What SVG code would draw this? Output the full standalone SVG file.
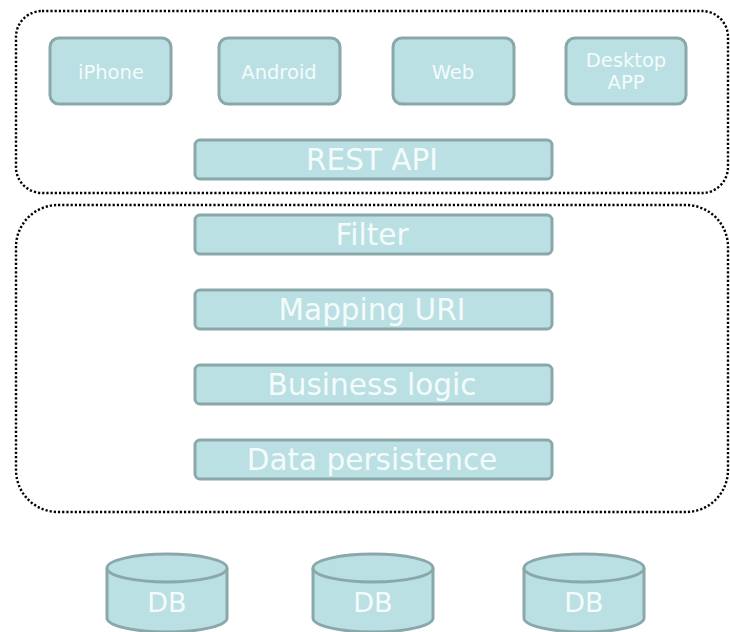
<svg xmlns="http://www.w3.org/2000/svg" width="730" height="632" viewBox="0 0 730 632">
<style>
.zone{fill:none;stroke:#000;stroke-width:2.4;stroke-dasharray:2.2 2}
.box{fill:#BAE0E3;stroke:#8AA8AA;stroke-width:3}
.t{fill:#F4FBFB;font-family:"DejaVu Sans","Verdana",sans-serif;font-weight:normal;text-anchor:middle}
.s{font-size:19.5px}
.l{font-size:29.5px}
.d{font-size:27px}
</style>
<g id="client-zone"><rect class="zone" x="16" y="11" width="712" height="182" rx="26"/></g>
<g id="server-zone"><rect class="zone" x="16" y="205" width="712" height="307" rx="42"/></g>
<g id="iphone"><rect class="box" x="50" y="38" width="121" height="66" rx="9"/><text class="t s" x="111" y="79">iPhone</text></g>
<g id="android"><rect class="box" x="219" y="38" width="121" height="66" rx="9"/><text class="t s" x="279" y="79">Android</text></g>
<g id="web"><rect class="box" x="393" y="38" width="121" height="66" rx="9"/><text class="t s" x="453" y="79">Web</text></g>
<g id="desktop"><rect class="box" x="566" y="38" width="120" height="66" rx="9"/><text class="t s" x="626" y="67">Desktop</text><text class="t s" x="626" y="89">APP</text></g>
<g id="rest-api"><rect class="box" x="195" y="140" width="357" height="39" rx="5"/><text class="t l" x="372" y="170">REST API</text></g>
<g id="filter"><rect class="box" x="195" y="215" width="357" height="39" rx="5"/><text class="t l" x="372" y="245">Filter</text></g>
<g id="mapping"><rect class="box" x="195" y="290" width="357" height="39" rx="5"/><text class="t l" x="372" y="320">Mapping URI</text></g>
<g id="business"><rect class="box" x="195" y="365" width="357" height="39" rx="5"/><text class="t l" x="372" y="395">Business logic</text></g>
<g id="persistence"><rect class="box" x="195" y="440" width="357" height="39" rx="5"/><text class="t l" x="372" y="470">Data persistence</text></g>
<g id="db1"><path class="box" d="M107 568 A60 14 0 0 1 227 568 L227 618 A60 14 0 0 1 107 618 Z"/><path class="box" d="M107 568 A60 14 0 0 0 227 568" fill="none"/><text class="t d" x="167" y="612">DB</text></g>
<g id="db2"><path class="box" d="M313 568 A60 14 0 0 1 433 568 L433 618 A60 14 0 0 1 313 618 Z"/><path class="box" d="M313 568 A60 14 0 0 0 433 568" fill="none"/><text class="t d" x="373" y="612">DB</text></g>
<g id="db3"><path class="box" d="M524 568 A60 14 0 0 1 644 568 L644 618 A60 14 0 0 1 524 618 Z"/><path class="box" d="M524 568 A60 14 0 0 0 644 568" fill="none"/><text class="t d" x="584" y="612">DB</text></g>
<g id="connectors"></g>
</svg>
